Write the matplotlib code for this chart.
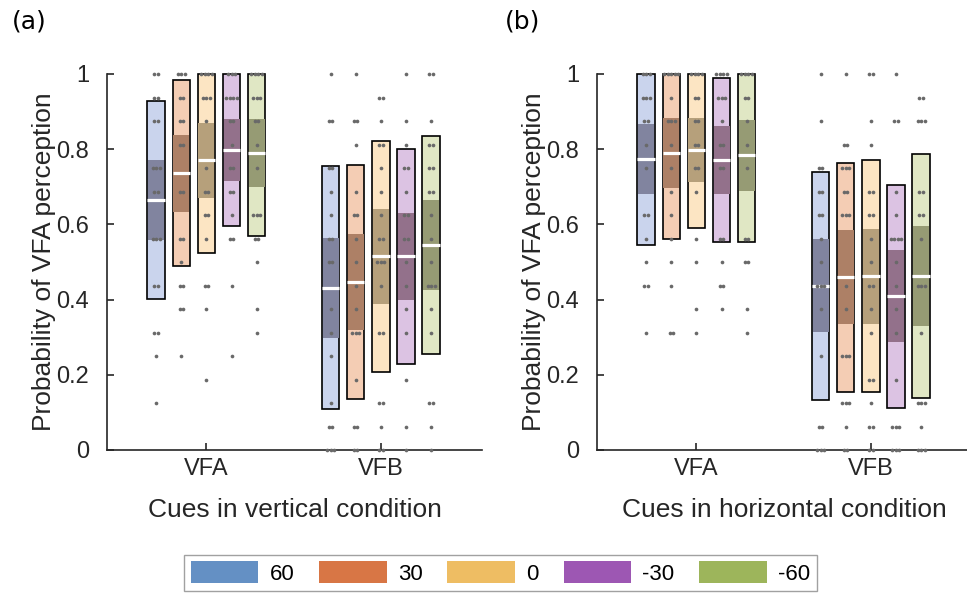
import matplotlib
matplotlib.use('Agg')
import matplotlib.pyplot as plt
from matplotlib.patches import Rectangle, Patch
import numpy as np

plt.rcParams['font.family'] = ['Liberation Sans', 'DejaVu Sans']

angles = ['60', '30', '0', '-30', '-60']
groups = ['VFA', 'VFB']
conditions = ['Cues in vertical condition', 'Cues in horizontal condition']
panel_labels = ['(a)', '(b)']

base_colors = ['#6490c4', '#d87645', '#eebd63', '#9d57b3', '#9db55b']
light_colors = ['#cad4ed', '#f4cdb4', '#fce5c3', '#dcc3e3', '#e0e7c4']
dark_colors = ['#81849f', '#ad8066', '#b6a07b', '#93718b', '#969b74']

# mean, SD half-width, CI half-width  (per angle)
vert_vfa_mean = [0.665, 0.736, 0.771, 0.798, 0.789]
vert_vfa_sd = [0.263, 0.247, 0.246, 0.202, 0.220]
vert_vfa_ci = [0.107, 0.102, 0.100, 0.083, 0.090]
vert_vfb_mean = [0.432, 0.447, 0.515, 0.515, 0.545]
vert_vfb_sd = [0.324, 0.311, 0.307, 0.285, 0.290]
vert_vfb_ci = [0.133, 0.128, 0.127, 0.116, 0.119]
horz_vfa_mean = [0.773, 0.789, 0.798, 0.771, 0.784]
horz_vfa_sd = [0.228, 0.229, 0.207, 0.218, 0.230]
horz_vfa_ci = [0.093, 0.093, 0.085, 0.090, 0.094]
horz_vfb_mean = [0.437, 0.459, 0.462, 0.409, 0.462]
horz_vfb_sd = [0.303, 0.305, 0.309, 0.297, 0.325]
horz_vfb_ci = [0.124, 0.125, 0.126, 0.123, 0.133]

# individual subjects, in sixteenths
vert_vfa_pts = [
    [16, 16, 15, 15, 14, 14, 12, 12, 12, 11, 11, 9, 9, 9, 7, 7, 5, 5, 4, 2],
    [16, 16, 16, 15, 15, 14, 14, 13, 13, 11, 11, 9, 9, 8, 7, 7, 6, 6, 4],
    [16, 16, 16, 16, 15, 15, 15, 14, 12, 11, 11, 10, 10, 9, 7, 7, 6, 3],
    [16, 16, 16, 15, 15, 15, 15, 14, 14, 13, 12, 12, 11, 11, 10, 9, 9, 7, 4],
    [16, 16, 16, 16, 15, 15, 15, 14, 14, 13, 12, 10, 10, 10, 9, 9, 8, 6, 5],
]
vert_vfb_pts = [
    [16, 14, 14, 12, 12, 11, 10, 9, 9, 8, 8, 6, 5, 4, 2, 1, 1, 0, 0, 0],
    [16, 14, 14, 13, 11, 10, 10, 9, 8, 7, 6, 5, 5, 5, 3, 1, 1, 0, 0],
    [15, 15, 14, 13, 13, 12, 11, 10, 9, 9, 8, 8, 8, 7, 5, 5, 2, 2, 1, 0, 0],
    [16, 14, 13, 12, 12, 11, 10, 10, 9, 9, 8, 7, 6, 5, 3, 1, 0],
    [16, 16, 14, 13, 13, 12, 12, 11, 11, 10, 9, 8, 7, 7, 7, 6, 5, 2, 2, 1, 0],
]
horz_vfa_pts = [
    [16, 16, 16, 15, 15, 15, 14, 14, 13, 12, 10, 10, 9, 8, 7, 7, 5],
    [16, 16, 16, 16, 16, 15, 14, 14, 14, 13, 12, 11, 10, 9, 8, 7, 5, 5],
    [16, 16, 16, 16, 15, 15, 14, 14, 13, 13, 12, 12, 11, 9, 8, 6, 5],
    [16, 16, 16, 16, 15, 15, 15, 14, 13, 13, 12, 12, 9, 9, 8, 7, 7, 6],
    [16, 16, 16, 16, 15, 15, 14, 13, 12, 9, 9, 8, 8, 6, 5],
]
horz_vfb_pts = [
    [16, 14, 12, 12, 11, 11, 10, 10, 9, 8, 7, 7, 7, 6, 4, 1, 1, 0, 0, 0],
    [16, 13, 13, 12, 12, 12, 11, 11, 10, 10, 10, 7, 6, 4, 4, 4, 2, 2, 2, 1, 0, 0],
    [16, 16, 14, 13, 11, 11, 10, 10, 9, 8, 7, 7, 6, 5, 3, 3, 2, 1, 1, 0, 0],
    [16, 14, 14, 11, 10, 9, 9, 9, 9, 8, 7, 6, 5, 3, 1, 1, 1, 0, 0, 0],
    [15, 15, 14, 14, 14, 11, 11, 10, 10, 9, 7, 7, 7, 5, 2, 2, 2, 1, 0, 0, 0],
]

panels = [
    [(vert_vfa_mean, vert_vfa_sd, vert_vfa_ci, vert_vfa_pts),
     (vert_vfb_mean, vert_vfb_sd, vert_vfb_ci, vert_vfb_pts)],
    [(horz_vfa_mean, horz_vfa_sd, horz_vfa_ci, horz_vfa_pts),
     (horz_vfb_mean, horz_vfb_sd, horz_vfb_ci, horz_vfb_pts)],
]

tick_size = 17
label_size = 19
axis_color = '#262626'
offsets = np.array([-2, -1, 0, 1, 2]) * 0.144
box_w = 0.1

fig = plt.figure(figsize=(9.67, 5.95), dpi=100)
ax_pos = [[107 / 967, 145 / 595, 375 / 967, 376 / 595],
          [597 / 967, 145 / 595, 375 / 967, 376 / 595]]

for p in range(2):
    ax = fig.add_axes(ax_pos[p])
    for g in range(2):
        means, sds, cis, pts = panels[p][g]
        for k in range(5):
            xc = g + 1 + offsets[k]
            m, sd, ci = means[k], sds[k], cis[k]
            lo, hi = max(m - sd, 0), min(m + sd, 1)
            ax.add_patch(Rectangle((xc - box_w / 2, lo), box_w, hi - lo,
                                   facecolor=light_colors[k], edgecolor='black',
                                   lw=1.2, zorder=2, clip_on=False))
            ax.add_patch(Rectangle((xc - box_w / 2 + 0.004, m - ci), box_w - 0.008, 2 * ci,
                                   facecolor=dark_colors[k], edgecolor='none', zorder=3))
            ax.plot([xc - box_w / 2, xc + box_w / 2], [m, m], color='white',
                    lw=2.3, zorder=4, solid_capstyle='butt')
            vals = np.array(pts[k]) / 16
            xs = np.empty(len(vals))
            for v in np.unique(vals):
                idx = np.where(vals == v)[0]
                xs[idx] = xc + (np.arange(len(idx)) - (len(idx) - 1) / 2) * 0.02
            ax.scatter(xs, vals, s=7, color='#696969', linewidths=0,
                       zorder=6, clip_on=False)

    ax.set_xlim(0.43, 2.58)
    ax.set_ylim(0, 1)
    ax.set_xticks([1, 2])
    ax.set_xticklabels(groups)
    ax.set_yticks([0, 0.2, 0.4, 0.6, 0.8, 1])
    ax.set_yticklabels(['0', '0.2', '0.4', '0.6', '0.8', '1'])
    for s in ['top', 'right']:
        ax.spines[s].set_visible(False)
    for s in ['left', 'bottom']:
        ax.spines[s].set_color(axis_color)
        ax.spines[s].set_linewidth(1.2)
        ax.spines[s].set_zorder(5)
    ax.tick_params(direction='in', length=5, width=1.2, color=axis_color,
                   labelcolor=axis_color, labelsize=tick_size)
    ax.tick_params(axis='y', pad=13)
    ax.tick_params(axis='x', pad=6)
    ax.set_xlabel(conditions[p], fontsize=label_size, color=axis_color, va='top')
    ax.xaxis.set_label_coords(0.5, -0.128)
    ax.set_ylabel('Probability of VFA perception', fontsize=label_size,
                  color=axis_color)
    ax.yaxis.set_label_coords(-0.135, 0.5)

fig.text(12 / 967, 1 - 22 / 595, panel_labels[0], fontsize=18, va='center',
         family='DejaVu Sans')
fig.text(505 / 967, 1 - 22 / 595, panel_labels[1], fontsize=18, va='center',
         family='DejaVu Sans')

handles = [Patch(facecolor=c, edgecolor='none') for c in base_colors]
leg = fig.legend(handles, angles, loc='center', ncol=5, mode='expand',
                 bbox_to_anchor=(184 / 967, 1 / 595, 633 / 967, 42 / 595),
                 fontsize=16, handlelength=3.05, handleheight=1.1,
                 handletextpad=0.5, columnspacing=1.0, fancybox=False,
                 borderaxespad=0, borderpad=0.3)
leg.get_frame().set_edgecolor('#8a8a8a')
leg.get_frame().set_linewidth(1.0)

fig.savefig('out.png', dpi=100)
